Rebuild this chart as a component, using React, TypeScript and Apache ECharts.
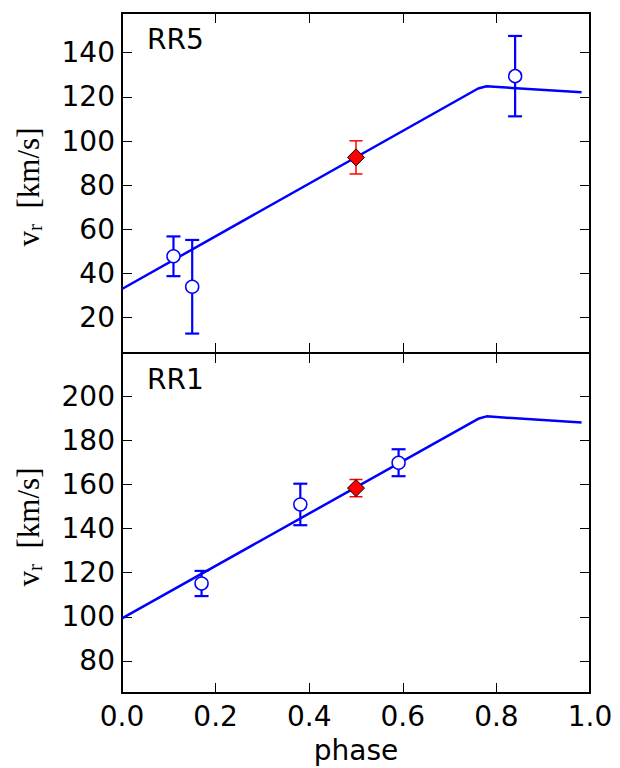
import React, { useEffect, useRef } from "react";
import * as echarts from "echarts";

// ---- data ----
const modelPhase = [0, 0.761, 0.779, 0.982];
const rr5ModelVel = [33, 123.8, 124.8, 122.1];
const rr1ModelVel = [99.3, 189.7, 190.8, 188];

const rr5Phase = [0.11, 0.15, 0.84];
const rr5Vel = [47.8, 34, 129.4];
const rr5Err = [9, 21.2, 18.2];
const rr5RefPhase = [0.5];
const rr5RefVel = [92.6];
const rr5RefErr = [7.5];

const rr1Phase = [0.17, 0.381, 0.591];
const rr1Vel = [115.1, 150.9, 169.8];
const rr1Err = [5.7, 9.4, 6.1];
const rr1RefPhase = [0.5];
const rr1RefVel = [158.3];
const rr1RefErr = [3.9];

const xRange = [0, 1];
const rr5Range = [4, 158];
const rr1Range = [65.5, 219.5];
const panelNames = ["RR5", "RR1"];

const FONT = "DejaVu Sans";
const FS = 28;

function errorBar(color: string, width: number, half: number, xi: number, yi: number, xs: number[], ys: number[], es: number[]) {
  return {
    type: "custom",
    xAxisIndex: xi,
    yAxisIndex: yi,
    z: 3,
    data: xs.map((x, i) => [x, ys[i] - es[i], ys[i] + es[i]]),
    encode: { x: 0, y: [1, 2] },
    renderItem: (params: any, api: any) => {
      const x = api.value(0);
      const lo = api.coord([x, api.value(1)]);
      const hi = api.coord([x, api.value(2)]);
      const style = { stroke: color, lineWidth: width };
      return {
        type: "group",
        children: [
          { type: "line", shape: { x1: lo[0], y1: lo[1], x2: hi[0], y2: hi[1] }, style },
          { type: "line", shape: { x1: lo[0] - half, y1: lo[1], x2: lo[0] + half, y2: lo[1] }, style },
          { type: "line", shape: { x1: hi[0] - half, y1: hi[1], x2: hi[0] + half, y2: hi[1] }, style },
        ],
      };
    },
  };
}

function xAxisDef(gi: number, pos: string, labels: boolean, name?: string) {
  return {
    type: "value",
    gridIndex: gi,
    position: pos,
    min: xRange[0],
    max: xRange[1],
    interval: 0.2,
    name: name || "",
    nameLocation: "middle",
    nameGap: 43,
    nameTextStyle: { fontFamily: FONT, fontSize: FS, color: "#000" },
    axisLine: { onZero: false, lineStyle: { color: "#000", width: 2 } },
    axisTick: { inside: true, length: 10, lineStyle: { color: "#000", width: 1 } },
    axisLabel: {
      show: labels,
      margin: 9,
      fontFamily: FONT,
      fontSize: FS,
      color: "#000",
      formatter: (v: number) => v.toFixed(1),
    },
    splitLine: { show: false },
  };
}

function yAxisDef(gi: number, pos: string, labels: boolean, range: number[]) {
  return {
    type: "value",
    gridIndex: gi,
    position: pos,
    min: range[0],
    max: range[1],
    splitNumber: 7,
    axisLine: { onZero: false, lineStyle: { color: "#000", width: 2 } },
    axisTick: { inside: true, length: 10, lineStyle: { color: "#000", width: 1 } },
    axisLabel: {
      show: labels,
      margin: 7,
      fontFamily: FONT,
      fontSize: FS,
      color: "#000",
      formatter: (v: number) => (Math.abs(v % 20) < 1e-6 ? String(Math.round(v)) : ""),
    },
    splitLine: { show: false },
  };
}

function yTitle(cx: number, cy: number) {
  return {
    type: "text",
    x: cx,
    y: cy,
    rotation: Math.PI / 2,
    style: {
      text: "{v|v}{s|r}{u|  [km/s]}",
      align: "center",
      verticalAlign: "middle",
      fill: "#000",
      rich: {
        v: { fontFamily: "Liberation Serif", fontSize: 31, fill: "#000", color: "#000" },
        s: { fontFamily: "Liberation Serif", fontSize: 21, fill: "#000", color: "#000", padding: [14, 0, 0, 0] },
        u: { fontFamily: "Liberation Serif", fontSize: 31, fill: "#000", color: "#000" },
      },
    },
  };
}

export default function App() {
  const ref = useRef<HTMLDivElement>(null);
  useEffect(() => {
    if (!ref.current) return;
    const chart = echarts.init(ref.current, null, { renderer: "svg" });
    const pts = (xs: number[], ys: number[]) => xs.map((x, i) => [x, ys[i]]);
    const circleStyle = { color: "#fff", borderColor: "#0000ff", borderWidth: 1.5, opacity: 1 };
    const diamondStyle = { color: "#ff0000", borderColor: "#000", borderWidth: 1, opacity: 1 };
    const option: any = {
      animation: false,
      backgroundColor: "#fff",
      grid: [
        { left: 122, width: 468, top: 13, height: 340 },
        { left: 122, width: 468, top: 353, height: 340 },
      ],
      xAxis: [
        xAxisDef(0, "bottom", false),
        xAxisDef(0, "top", false),
        xAxisDef(1, "bottom", true, "phase"),
        xAxisDef(1, "top", false),
      ],
      yAxis: [
        yAxisDef(0, "left", true, rr5Range),
        yAxisDef(0, "right", false, rr5Range),
        yAxisDef(1, "left", true, rr1Range),
        yAxisDef(1, "right", false, rr1Range),
      ],
      series: [
        {
          type: "line",
          xAxisIndex: 0,
          yAxisIndex: 0,
          data: pts(modelPhase, rr5ModelVel),
          showSymbol: false,
          lineStyle: { color: "#0000ff", width: 2.5 },
          z: 2,
        },
        errorBar("#0000ff", 2.2, 7, 0, 0, rr5Phase, rr5Vel, rr5Err),
        errorBar("#ff0000", 1.5, 6.5, 0, 0, rr5RefPhase, rr5RefVel, rr5RefErr),
        {
          type: "scatter",
          xAxisIndex: 0,
          yAxisIndex: 0,
          data: pts(rr5Phase, rr5Vel),
          symbol: "circle",
          symbolSize: 13,
          itemStyle: circleStyle,
          z: 4,
        },
        {
          type: "scatter",
          xAxisIndex: 0,
          yAxisIndex: 0,
          data: pts(rr5RefPhase, rr5RefVel),
          symbol: "diamond",
          symbolSize: 17,
          itemStyle: diamondStyle,
          z: 4,
        },
        {
          type: "line",
          xAxisIndex: 2,
          yAxisIndex: 2,
          data: pts(modelPhase, rr1ModelVel),
          showSymbol: false,
          lineStyle: { color: "#0000ff", width: 2.5 },
          z: 2,
        },
        errorBar("#0000ff", 2.2, 7, 2, 2, rr1Phase, rr1Vel, rr1Err),
        errorBar("#ff0000", 1.5, 6.5, 2, 2, rr1RefPhase, rr1RefVel, rr1RefErr),
        {
          type: "scatter",
          xAxisIndex: 2,
          yAxisIndex: 2,
          data: pts(rr1Phase, rr1Vel),
          symbol: "circle",
          symbolSize: 13,
          itemStyle: circleStyle,
          z: 4,
        },
        {
          type: "scatter",
          xAxisIndex: 2,
          yAxisIndex: 2,
          data: pts(rr1RefPhase, rr1RefVel),
          symbol: "diamond",
          symbolSize: 17,
          itemStyle: diamondStyle,
          z: 4,
        },
      ],
      graphic: [
        {
          type: "text",
          left: 147,
          top: 25,
          style: { text: panelNames[0], fontFamily: FONT, fontSize: FS, fill: "#000" },
        },
        {
          type: "text",
          left: 147,
          top: 365,
          style: { text: panelNames[1], fontFamily: FONT, fontSize: FS, fill: "#000" },
        },
        yTitle(28, 187),
        yTitle(28, 527),
      ],
    };
    chart.setOption(option);
    return () => chart.dispose();
  }, []);
  return (
    <div
      ref={ref}
      style={{ position: "absolute", left: 0, top: 0, width: 620, height: 768 }}
    />
  );
}
